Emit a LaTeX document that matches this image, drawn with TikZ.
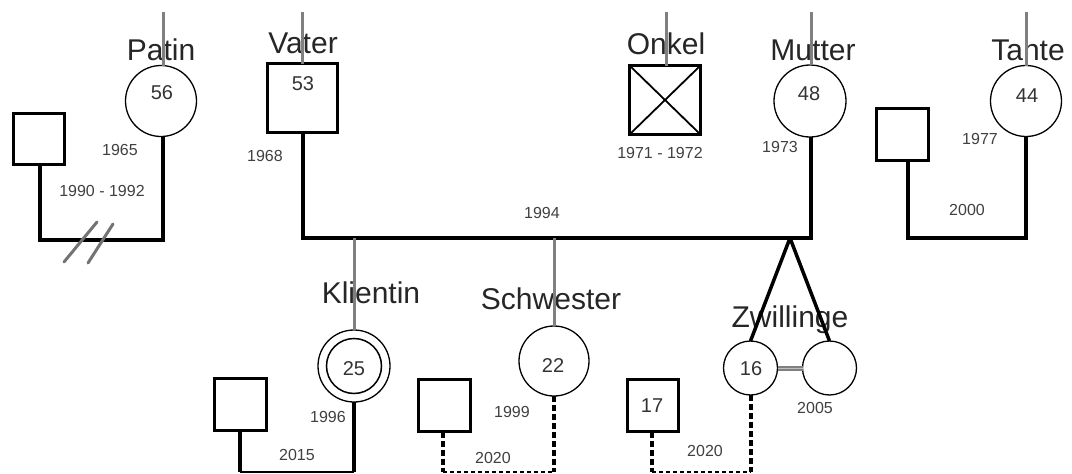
\documentclass[tikz,border=0pt]{standalone}
\usepackage{fontspec}
\setmainfont{Liberation Sans}
\begin{document}
\begin{tikzpicture}[x=1pt,y=-1pt,
  male/.style={draw=black,line width=3pt,rectangle,inner sep=0pt,outer sep=0pt},
  female/.style={draw=black,line width=1.3pt,circle,inner sep=0pt,outer sep=0pt},
  nm/.style={font=\fontsize{30}{31}\selectfont,text=black!85,anchor=base,inner sep=0pt},
  num/.style={font=\fontsize{20}{22}\selectfont,text=black!80,anchor=base,inner sep=0pt},
  yr/.style={font=\fontsize{16}{18}\selectfont,text=black!75,anchor=base,inner sep=0pt},
  rel/.style={line width=4pt,black},
  thinrel/.style={line width=1.6pt,black},
  desc/.style={line width=3pt,black!50},
  dsh/.style={line width=4pt,black,dash pattern=on 6pt off 3pt},
  thindsh/.style={line width=1.4pt,black,dash pattern=on 4pt off 3pt},
  twinl/.style={line width=3.5pt,black},
  cut/.style={line width=3pt,black!55,line cap=round},
]
\useasboundingbox (0,0) rectangle (1072,474);

% ---------- top generation ----------
\node[female,minimum size=71pt] (patin) at (161,101) {};
\node[num] (patinN) at (162,99) {56};
\node[nm] (patinL) at (161,60) {Patin};
\coordinate (patinTop) at (163,12);

\node[male,minimum width=51pt,minimum height=51pt] (pex) at (39,139) {};
\node[yr] (y1965) at (120,155) {1965};
\node[yr] (y1990) at (102,196) {1990 - 1992};
\coordinate (pexC) at (40,240);
\coordinate (patC) at (163,240);

\node[male,minimum width=70pt,minimum height=69pt] (vater) at (302.5,98) {};
\node[num] (vaterN) at (303,90) {53};
\node[nm] (vaterL) at (303,53) {Vater};
\coordinate (vaterTop) at (302,12);
\node[yr] (y1968) at (265,161) {1968};

\node[male,minimum width=71pt,minimum height=69pt] (onkel) at (665,100) {};
\node[nm] (onkelL) at (666,54) {Onkel};
\coordinate (onkelTop) at (666,12);
\node[yr] (y1971) at (660,158) {1971 - 1972};

\node[female,minimum size=72pt] (mutter) at (810,101) {};
\node[num] (mutterN) at (809,100) {48};
\node[nm] (mutterL) at (813,60) {Mutter};
\coordinate (mutterTop) at (811,12);
\node[yr] (y1973) at (780,152) {1973};

\node[male,minimum width=52pt,minimum height=52pt] (tpart) at (902.5,134.5) {};
\node[female,minimum size=71pt] (tante) at (1026,101) {};
\node[num] (tanteN) at (1027,102) {44};
\node[nm] (tanteL) at (1028,60) {Tante};
\coordinate (tanteTop) at (1026,12);
\node[yr] (y1977) at (980,144) {1977};
\node[yr] (y2000) at (967,215) {2000};

\node[yr] (y1994) at (542,218) {1994};

% ---------- connectors top ----------
\coordinate (vC) at (303,238);
\coordinate (mC) at (811,238);
\coordinate (apex) at (790,238);
\coordinate (kC) at (354,238);
\coordinate (sC) at (554,238);
\coordinate (tpC) at (908,238);
\coordinate (taC) at (1026,238);

\draw[rel,line join=miter] (pex.south -| pexC) -- (pexC) -- (patC) -- (patin.south -| patC);
\draw[cut] (64,262) -- (97,222);
\draw[cut] (88,263) -- (113,224);

\draw[rel,line join=miter] (vater.south -| vC) -- (vC) -- (mC) -- (mutter.south -| mC);
\draw[rel,line join=miter] (tpart.south -| tpC) -- (tpC) -- (taC) -- (tante.south -| taC);

\draw[line width=1.8pt] (onkel.north west) -- (onkel.south east);
\draw[line width=1.8pt] (onkel.north east) -- (onkel.south west);

% ---------- children ----------
\node[female,minimum size=72pt] (klientin) at (354,366) {};
\node[female,line width=1.5pt,minimum size=55pt] (klientinI) at (354,366) {};
\node[num] (klientinN) at (354,375) {25};
\node[nm] (klientinL) at (371,303) {Klientin};
\node[yr] (y1996) at (328,422) {1996};

\node[female,minimum size=70pt] (schwester) at (554,361) {};
\node[num] (schwesterN) at (553,372) {22};
\node[nm] (schwesterL) at (551,309) {Schwester};
\node[yr] (y1999) at (512,417) {1999};

\node[female,minimum size=54pt] (twinA) at (750.5,368) {};
\node[num] (twinAN) at (751,375) {16};
\node[female,minimum size=54pt] (twinB) at (829.5,368) {};
\node[nm] (twinL) at (790,327) {Zwillinge};
\node[yr] (y2005) at (815,413) {2005};

\draw[black!50,line width=5pt] (twinA.east) -- (twinB.west);
\draw[black!25,line width=1pt] (twinA.east) -- (twinB.west);

\draw[twinl] (apex) -- (twinA.north);
\draw[twinl] (apex) -- (twinB.north);

% ---------- partners of the children ----------
\node[male,minimum width=52pt,minimum height=52pt] (kpart) at (240.5,404.5) {};
\node[yr] (y2015) at (297,460) {2015};
\coordinate (kpC) at (240,472);
\coordinate (kbC) at (354,472);
\draw[rel] (kpart.south -| kpC) -- (kpC);
\draw[rel] (klientin.south) -- (kbC);
\draw[thinrel] (kpC) -- (kbC);

\node[male,minimum width=52pt,minimum height=52pt] (spart) at (444.5,405.5) {};
\node[yr] (y2020a) at (493,463) {2020};
\coordinate (spC) at (443,472);
\coordinate (sbC) at (554,472);
\draw[dsh] (spart.south -| spC) -- (spC);
\draw[dsh] (schwester.south) -- (sbC);
\draw[thindsh] (spC) -- (sbC);

\node[male,minimum width=51pt,minimum height=52pt] (zpart) at (653,405.5) {};
\node[num] (zpartN) at (652,412) {17};
\node[yr] (y2020b) at (705,456) {2020};
\coordinate (zpC) at (652,472);
\coordinate (zbC) at (751,472);
\draw[dsh] (zpart.south -| zpC) -- (zpC);
\draw[dsh] (twinA.south -| zbC) -- (zbC);
\draw[thindsh] (zpC) -- (zbC);

% ---------- descent lines (grey) ----------
\draw[desc] (patinTop) -- (patinTop |- patin.north);
\draw[desc] (vaterTop) -- (vaterTop |- vater.north);
\draw[desc] (onkelTop) -- (onkelTop |- onkel.north);
\draw[desc] (mutterTop) -- (mutterTop |- mutter.north);
\draw[desc] (tanteTop) -- (tanteTop |- tante.north);
\draw[desc] (kC) -- (klientin.north);
\draw[desc] (sC) -- (schwester.north);
\end{tikzpicture}
\end{document}
